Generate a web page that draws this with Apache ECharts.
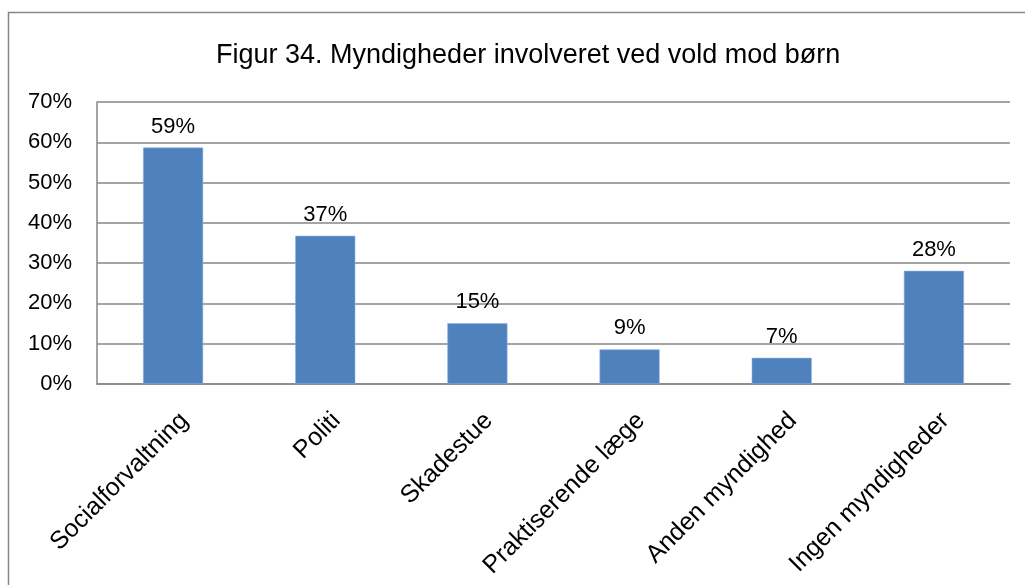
<!DOCTYPE html>
<html>
<head>
<meta charset="utf-8">
<script src="https://cdn.jsdelivr.net/npm/echarts@6/dist/echarts.min.js"></script>
<style>
  html, body { margin: 0; padding: 0; background: #fff; }
  #chart { width: 1025px; height: 585px; }
</style>
</head>
<body>
<div id="chart"></div>
<script>
// Bar chart: authorities involved in cases of violence against children
const titleText = 'Figur 34. Myndigheder involveret ved vold mod børn';
const categories = ['Socialforvaltning', 'Politi', 'Skadestue', 'Praktiserende læge', 'Anden myndighed', 'Ingen myndigheder'];
const shares = [58.7, 36.8, 15.1, 8.6, 6.5, 28.1];
const yTicks = [0, 10, 20, 30, 40, 50, 60, 70];

const font = 'Liberation Sans';
const chart = echarts.init(document.getElementById('chart'), null, { renderer: 'canvas' });

chart.setOption({
  animation: false,
  backgroundColor: '#ffffff',
  title: {
    text: titleText,
    left: 211,
    top: 37,
    textStyle: { fontFamily: font, fontSize: 27, fontWeight: 'normal', color: '#000' }
  },
  graphic: [{
    type: 'rect',
    shape: { x: 8.5, y: 12.5, width: 1040, height: 600 },
    style: { fill: 'none', stroke: '#868686', lineWidth: 1.5 },
    silent: true
  }],
  grid: { left: 97, right: 15, top: 102, bottom: 201, containLabel: false },
  xAxis: {
    type: 'category',
    data: categories,
    axisLine: { show: true, lineStyle: { color: '#868686', width: 1.5 } },
    axisTick: { show: false },
    axisLabel: {
      rotate: 45,
      margin: 44,
      padding: [0, -16, 0, 0],
      interval: 0,
      fontFamily: font,
      fontSize: 25,
      color: '#000'
    }
  },
  yAxis: {
    type: 'value',
    min: yTicks[0],
    max: yTicks[yTicks.length - 1],
    interval: 10,
    axisLine: { show: true, lineStyle: { color: '#868686', width: 1.5 } },
    axisTick: { show: false },
    splitLine: { show: true, lineStyle: { color: '#868686', width: 1.5 } },
    axisLabel: {
      margin: 25,
      fontFamily: font,
      fontSize: 22,
      color: '#000',
      formatter: v => v + '%'
    }
  },
  series: [{
    type: 'bar',
    data: shares,
    barWidth: '39.5%',
    itemStyle: { color: '#4F81BD', borderColor: '#8EB4E3', borderWidth: 0.6 },
    label: {
      show: true,
      position: 'top',
      distance: 10,
      fontFamily: font,
      fontSize: 22,
      color: '#000',
      formatter: p => Math.round(p.value) + '%'
    }
  }]
});
</script>
</body>
</html>
